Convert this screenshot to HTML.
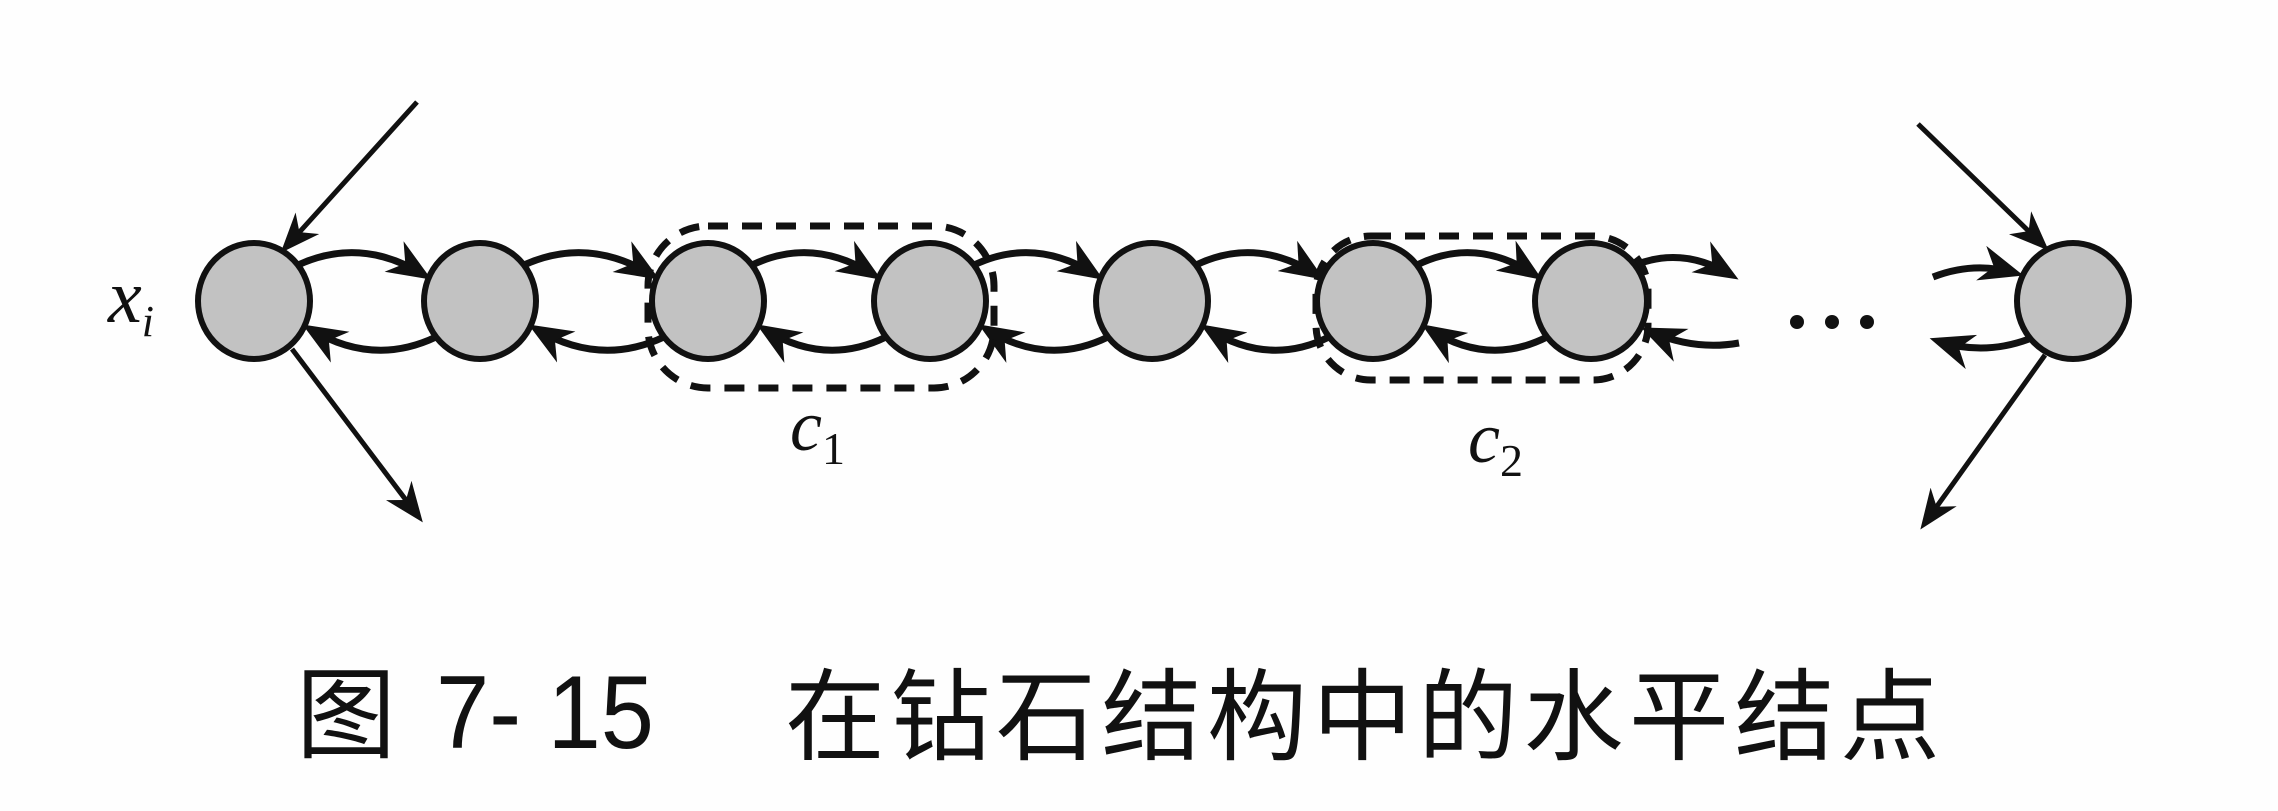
<!DOCTYPE html>
<html><head><meta charset="utf-8"><style>
html,body{margin:0;padding:0;background:#fff;}
svg{display:block}
</style></head><body>
<svg id="fig" width="2278" height="811" viewBox="0 0 2278 811" xmlns="http://www.w3.org/2000/svg">
<defs>
<marker id="ah" viewBox="0 0 10 10" refX="8" refY="5" markerWidth="44" markerHeight="36" orient="auto" markerUnits="userSpaceOnUse" preserveAspectRatio="none">
<path d="M0,0 L10,5 L0,10 L3,5 z" fill="#111"/>
</marker>
<marker id="ahs" viewBox="0 0 10 10" refX="8" refY="5" markerWidth="40" markerHeight="32" orient="auto" markerUnits="userSpaceOnUse" preserveAspectRatio="none">
<path d="M0,0 L10,5 L0,10 L3,5 z" fill="#111"/>
</marker>
</defs>
<rect width="2278" height="811" fill="#fefefe"/>
<g id="links"></g>
<g id="nodes"></g>
<rect x="648" y="226" width="346" height="162" rx="60" fill="none" stroke="#111" stroke-width="7" stroke-dasharray="20,14"/>
<rect x="1316" y="236" width="332" height="144" rx="55" fill="none" stroke="#111" stroke-width="7" stroke-dasharray="20,14"/>
<text x="108" y="322" font-family="Liberation Serif, serif" font-style="italic" font-size="76" fill="#111">x<tspan font-size="44" dy="14">i</tspan></text>
<text x="790" y="450" font-family="Liberation Serif, serif" font-style="italic" font-size="72" fill="#111">c<tspan font-size="46" dy="14" font-style="normal">1</tspan></text>
<text x="1468" y="462" font-family="Liberation Serif, serif" font-style="italic" font-size="72" fill="#111">c<tspan font-size="46" dy="14" font-style="normal">2</tspan></text>
<g fill="#111">
<circle cx="1797" cy="322" r="7"/><circle cx="1832" cy="322" r="7"/><circle cx="1867" cy="322" r="7"/>
</g>
<text x="296" y="750" font-family="Liberation Sans, Noto Sans CJK SC, sans-serif" font-size="100" fill="#111">图</text>
<text x="436" y="748" font-family="Liberation Sans, sans-serif" font-size="104" fill="#111" textLength="218" lengthAdjust="spacingAndGlyphs">7- 15</text>
<text x="785" y="752" font-family="Liberation Sans, Noto Sans CJK SC, sans-serif" font-size="100" fill="#111" textLength="1155" lengthAdjust="spacing">在钻石结构中的水平结点</text>
</svg>
<script>
const nodeX = [254, 480, 708, 930, 1152, 1373, 1591, 2073];
const nodeY = [301, 301, 301, 301, 301, 301, 301, 301];
const NS = 'http://www.w3.org/2000/svg';
const links = document.getElementById('links');
const nodesG = document.getElementById('nodes');
const RX = 56, RY = 58;
function mk(tag, attrs, parent){
  const e = document.createElementNS(NS, tag);
  for (const k in attrs) e.setAttribute(k, attrs[k]);
  parent.appendChild(e); return e;
}
function arc(x1,y1,x2,y2,bend,name){
  const mx=(x1+x2)/2, my=(y1+y2)/2+bend;
  const p = mk('path',{d:`M${x1},${y1} Q${mx},${my} ${x2},${y2}`,fill:'none',stroke:'#111','stroke-width':7,'marker-end':'url(#ah)'},links);
  
  
}
function line(x1,y1,x2,y2,name){
  const p = mk('line',{x1:x1,y1:y1,x2:x2,y2:y2,stroke:'#111','stroke-width':5,'marker-end':'url(#ahs)'},links);
  
  
}
for (let i=0;i<6;i++){
  const a=nodeX[i], b=nodeX[i+1];
  arc(a+44, nodeY[i]-36, b-56, nodeY[i+1]-26, -34, 'forward-edge');
  arc(b-44, nodeY[i+1]+36, a+56, nodeY[i]+28, 34, 'backward-edge');
}
arc(nodeX[6]+44, nodeY[6]-36, nodeX[6]+140, nodeY[6]-26, -24, 'forward-edge-out');
arc(nodeX[6]+148, nodeY[6]+42, nodeX[6]+58, nodeY[6]+30, 14, 'backward-edge-in');
arc(nodeX[7]-140, nodeY[7]-24, nodeX[7]-58, nodeY[7]-28, -14, 'forward-edge-in');
arc(nodeX[7]-44, nodeY[7]+38, nodeX[7]-135, nodeY[7]+40, 16, 'backward-edge-out');
line(417,102, nodeX[0]+32, nodeY[0]-54, 'incoming-edge-left');
line(nodeX[0]+38, nodeY[0]+48, 418,516, 'outgoing-edge-left');
line(1918,124, nodeX[7]-30, nodeY[7]-56, 'incoming-edge-right');
line(nodeX[7]-28, nodeY[7]+54, 1925,523, 'outgoing-edge-right');
for (let i=0;i<nodeX.length;i++){
  const c = mk('ellipse',{cx:nodeX[i],cy:nodeY[i],rx:RX,ry:RY,fill:'#c2c2c2',stroke:'#111','stroke-width':6},nodesG);
  
  
}
</script>
</body></html>
